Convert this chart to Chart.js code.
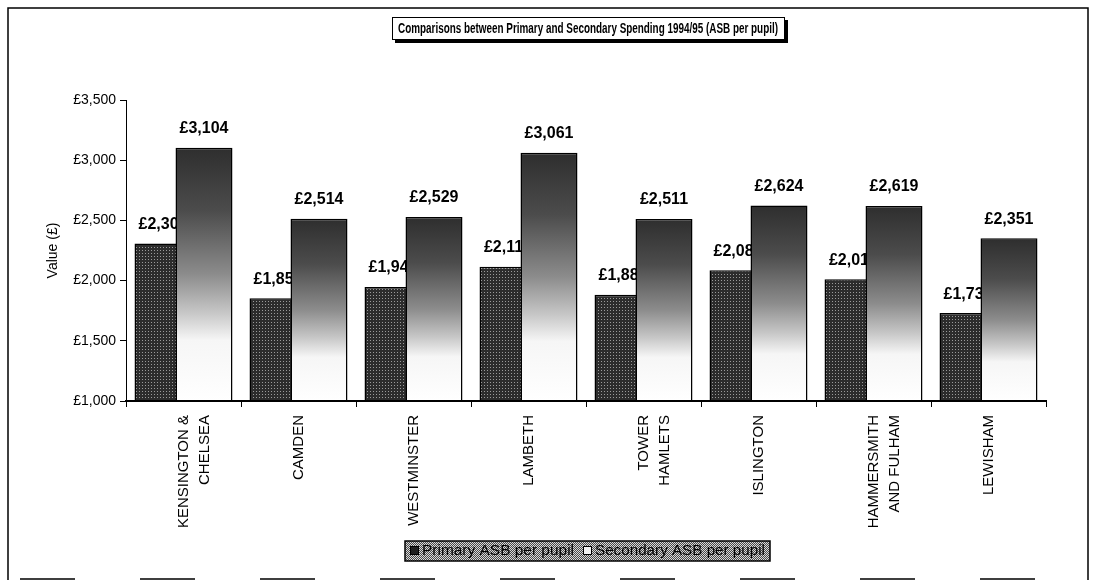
<!DOCTYPE html>
<html>
<head>
<meta charset="utf-8">
<title>Primary vs Secondary Spending</title>
<script src="https://cdn.jsdelivr.net/npm/chart.js@4.4.0/dist/chart.umd.min.js"></script>
<style>
html, body { margin: 0; padding: 0; background: #fff; }
#wrap { width: 1096px; height: 586px; }
</style>
</head>
<body>
<div id="wrap"><canvas id="spendChart" width="1096" height="586"></canvas></div>
<script>
// values
const boroughs = [
    ['KENSINGTON &', 'CHELSEA'],
    'CAMDEN',
    'WESTMINSTER',
    'LAMBETH',
    ['TOWER', 'HAMLETS'],
    'ISLINGTON',
    ['HAMMERSMITH', 'AND FULHAM'],
    'LEWISHAM'
];
const primarySpend = [2308, 1854, 1947, 2115, 1883, 2087, 2011, 1730];
const secondarySpend = [3104, 2514, 2529, 3061, 2511, 2624, 2619, 2351];
const yMin = 1000;
const yMax = 3500;
const yStep = 500;
const seriesNames = ['Primary ASB per pupil', 'Secondary ASB per pupil'];
const chartTitle = 'Comparisons between Primary and Secondary Spending 1994/95 (ASB per pupil)';

const FONT = "'Liberation Sans', Arial, sans-serif";

function money(v) {
    return '£' + Number(v).toLocaleString('en-GB');
}

const canvas = document.getElementById('spendChart');
const mainCtx = canvas.getContext('2d');

// small dither tiles to imitate the printed fills
function tile(base, dot) {
    const c = document.createElement('canvas');
    c.width = 3;
    c.height = 3;
    const g = c.getContext('2d');
    g.fillStyle = base;
    g.fillRect(0, 0, 3, 3);
    g.fillStyle = dot;
    g.fillRect(1, 1, 1, 1);
    return mainCtx.createPattern(c, 'repeat');
}

function checker(a, b) {
    const c = document.createElement('canvas');
    c.width = 2;
    c.height = 2;
    const g = c.getContext('2d');
    g.fillStyle = a;
    g.fillRect(0, 0, 2, 2);
    g.fillStyle = b;
    g.fillRect(0, 0, 1, 1);
    g.fillRect(1, 1, 1, 1);
    return mainCtx.createPattern(c, 'repeat');
}

const primaryFill = tile('#2c2c2c', '#9a9a9a');
const legendFill = checker('#4a4a4a', '#d8d8d8');

function secondaryFill(ctx) {
    const chart = ctx.chart;
    if (!chart.chartArea || ctx.type !== 'data') {
        return '#888';
    }
    const y = chart.scales.y;
    const top = y.getPixelForValue(ctx.raw);
    const bottom = y.getPixelForValue(yMin);
    const g = chart.ctx.createLinearGradient(0, top, 0, bottom);
    g.addColorStop(0, '#2e2e2e');
    g.addColorStop(0.25, '#4c4c4c');
    g.addColorStop(0.5, '#8c8c8c');
    g.addColorStop(0.65, '#c6c6c6');
    g.addColorStop(0.76, '#f6f6f6');
    g.addColorStop(1, '#ffffff');
    return g;
}

// text squeezed horizontally to mimic the narrow print font
function squeezed(g, text, x, y, font, width, align) {
    g.save();
    g.font = font;
    const w = g.measureText(text).width;
    const sx = width ? width / w : 1;
    g.translate(x, y);
    g.scale(sx, 1);
    g.textAlign = align || 'center';
    g.textBaseline = 'middle';
    g.fillStyle = '#000';
    g.fillText(text, 0, 0);
    g.restore();
}

function drawValueLabels(chart, index) {
    const meta = chart.getDatasetMeta(index);
    const g = chart.ctx;
    g.save();
    g.font = 'bold 16px ' + FONT;
    g.fillStyle = '#000';
    g.textAlign = 'center';
    g.textBaseline = 'middle';
    meta.data.forEach(function (bar, i) {
        const v = chart.data.datasets[index].data[i];
        g.fillText(money(v), bar.x, bar.y - 19);
    });
    g.restore();
}

const decorations = {
    id: 'decorations',
    beforeDraw(chart) {
        const g = chart.ctx;
        g.save();
        // outer frame
        g.strokeStyle = '#000';
        g.lineWidth = 1.5;
        g.beginPath();
        g.moveTo(8, 580);
        g.lineTo(8, 8);
        g.lineTo(1088, 8);
        g.lineTo(1088, 580);
        g.stroke();
        g.setLineDash([55, 65]);
        g.beginPath();
        g.moveTo(20, 579);
        g.lineTo(1088, 579);
        g.stroke();
        g.setLineDash([]);

        // title box with drop shadow
        g.fillStyle = '#000';
        g.fillRect(395, 20, 393, 23);
        g.fillStyle = '#fff';
        g.fillRect(392, 17, 393, 23);
        g.lineWidth = 1;
        g.strokeRect(392.5, 17.5, 392, 22);
        g.restore();
        squeezed(g, chartTitle, 588, 29, 'bold 14px ' + FONT, 380);
    },
    beforeDatasetDraw(chart, args) {
        // secondary bars overlap the primary ones, so they are drawn last
        if (args.index === 1) {
            return false;
        }
    },
    afterDatasetsDraw(chart) {
        const g = chart.ctx;
        const area = chart.chartArea;
        drawValueLabels(chart, 0);
        g.save();
        g.beginPath();
        g.rect(area.left, area.top - 5, area.right - area.left, area.bottom - area.top + 5);
        g.clip();
        chart.getDatasetMeta(1).controller.draw();
        g.restore();
        drawValueLabels(chart, 1);
        g.save();
        g.strokeStyle = '#000';
        g.lineWidth = 2;
        g.beginPath();
        g.moveTo(area.left, area.bottom);
        g.lineTo(area.right, area.bottom);
        g.stroke();
        g.restore();
    },
    afterDraw(chart) {
        const g = chart.ctx;
        g.save();
        const x0 = 405, y0 = 541, w = 365, h = 20;
        g.fillStyle = legendFill;
        g.fillRect(x0, y0, w, h);
        g.strokeStyle = '#000';
        g.lineWidth = 1.5;
        g.strokeRect(x0, y0, w, h);
        // swatches
        g.fillStyle = '#1e1e1e';
        g.fillRect(410, 546, 9, 9);
        g.strokeStyle = '#000';
        g.lineWidth = 1;
        g.strokeRect(410.5, 546.5, 8, 8);
        g.fillStyle = '#f2f2f2';
        g.fillRect(583, 546, 9, 9);
        g.strokeRect(583.5, 546.5, 8, 8);
        g.restore();
        squeezed(g, seriesNames[0], 422, 551, '14px ' + FONT, 152, 'left');
        squeezed(g, seriesNames[1], 595, 551, '14px ' + FONT, 170, 'left');
    }
};

new Chart(canvas, {
    type: 'bar',
    data: {
        labels: boroughs,
        datasets: [{
            label: seriesNames[0],
            data: primarySpend,
            backgroundColor: primaryFill,
            borderColor: '#000',
            borderWidth: 1.5,
            categoryPercentage: 0.713,
            barPercentage: 1.39
        }, {
            label: seriesNames[1],
            data: secondarySpend,
            backgroundColor: secondaryFill,
            borderColor: '#000',
            borderWidth: 1.5,
            categoryPercentage: 0.713,
            barPercentage: 1.39
        }]
    },
    options: {
        responsive: false,
        animation: false,
        layout: {
            padding: { left: 0, right: 50, top: 100, bottom: 0 }
        },
        plugins: {
            legend: { display: false },
            title: { display: false },
            tooltip: { enabled: false }
        },
        scales: {
            x: {
                offset: true,
                grid: {
                    offset: true,
                    drawOnChartArea: false,
                    drawTicks: true,
                    tickLength: 6,
                    color: '#000'
                },
                border: { display: true, color: '#000', width: 2 },
                ticks: {
                    autoSkip: false,
                    minRotation: 90,
                    maxRotation: 90,
                    padding: 8,
                    color: '#000',
                    font: { family: FONT, size: 15, lineHeight: 1.4 }
                },
                afterFit(scale) {
                    scale.height = 185;
                }
            },
            y: {
                min: yMin,
                max: yMax,
                ticks: {
                    stepSize: yStep,
                    padding: 4,
                    color: '#000',
                    font: { family: FONT, size: 14 },
                    callback: function (v) { return money(v); }
                },
                grid: {
                    drawOnChartArea: false,
                    drawTicks: true,
                    tickLength: 6,
                    color: '#000'
                },
                border: { display: true, color: '#000', width: 1 },
                title: {
                    display: true,
                    text: 'Value (£)',
                    color: '#000',
                    font: { family: FONT, size: 14 },
                    padding: { top: 45, bottom: 0 }
                },
                afterFit(scale) {
                    scale.width = 126;
                }
            }
        }
    },
    plugins: [decorations]
});
</script>
</body>
</html>
